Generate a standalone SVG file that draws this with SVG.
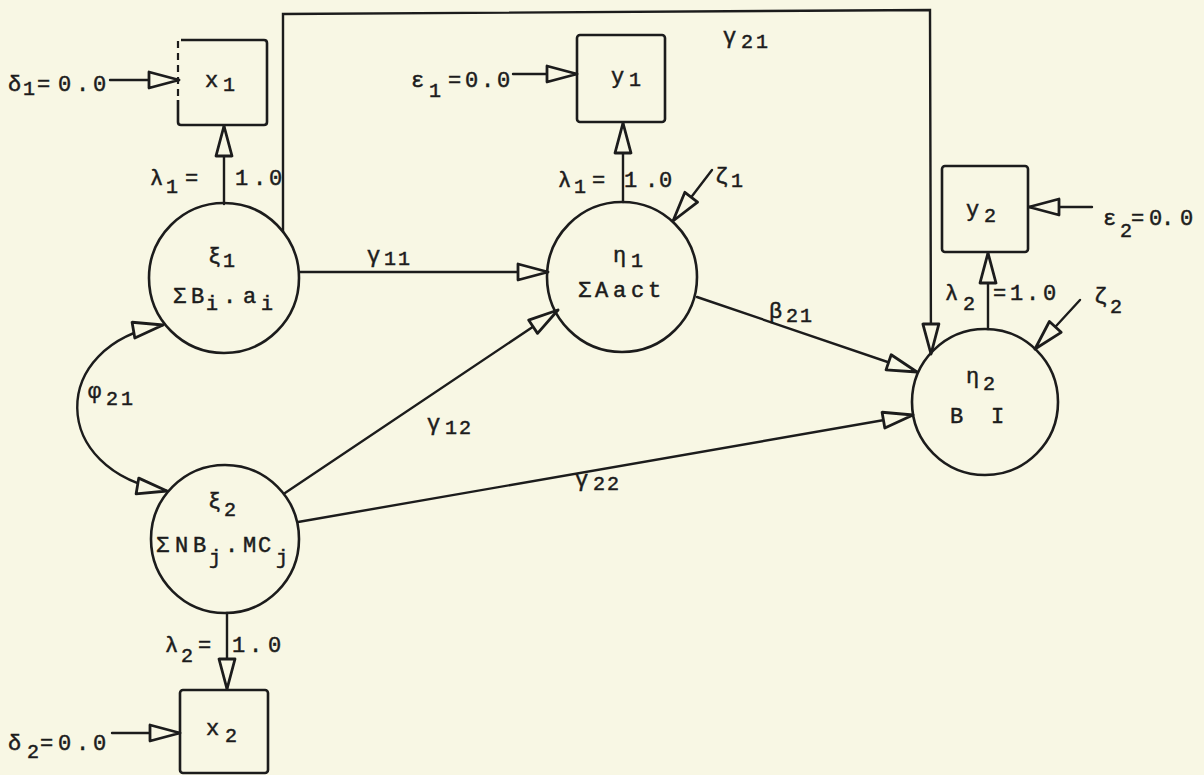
<svg xmlns="http://www.w3.org/2000/svg" width="1204" height="775" viewBox="0 0 1204 775">
<defs>
<style>
.bg{fill:#f8f7e4}
.ln{fill:none;stroke:#1c1c1c;stroke-width:2.4;stroke-linecap:round}
.nd{fill:none;stroke:#1c1c1c;stroke-width:2.6}
.dsh{fill:none;stroke:#1c1c1c;stroke-width:2.2;stroke-dasharray:7 5}
text{font-family:"Liberation Mono","DejaVu Sans Mono",monospace;font-size:22px;fill:#1c1c1c;stroke:#1c1c1c;stroke-width:0.5}
.s{font-size:20px}
</style>
<marker id="ah" markerUnits="userSpaceOnUse" markerWidth="36" markerHeight="22" refX="32" refY="10" orient="auto-start-reverse" viewBox="0 0 36 22">
<path d="M2,2 L32,10 L2,18 Z" fill="#f8f7e4" stroke="#1c1c1c" stroke-width="2.8" stroke-linejoin="round"/>
</marker>
</defs>
<rect class="bg" x="0" y="0" width="1204" height="775"/>

<g id="connectors">
<line class="ln" x1="110" y1="80" x2="179" y2="80" marker-end="url(#ah)"/>
<line class="ln" x1="224" y1="204" x2="224" y2="126" marker-end="url(#ah)"/>
<line class="ln" x1="300" y1="272" x2="548" y2="272" marker-end="url(#ah)"/>
<path class="ln" d="M283,232 L283,14 L930,10 L931,354" marker-end="url(#ah)"/>
<path class="ln" d="M163,325 C48,345 48,471 167,491" marker-start="url(#ah)" marker-end="url(#ah)"/>
<line class="ln" x1="285" y1="493" x2="558" y2="310" marker-end="url(#ah)"/>
<line class="ln" x1="298" y1="522" x2="913" y2="415" marker-end="url(#ah)"/>
<line class="ln" x1="227" y1="613" x2="227" y2="689" marker-end="url(#ah)"/>
<line class="ln" x1="112" y1="733" x2="180" y2="733" marker-end="url(#ah)"/>
<line class="ln" x1="513" y1="74" x2="577" y2="74" marker-end="url(#ah)"/>
<line class="ln" x1="623" y1="202" x2="623" y2="123" marker-end="url(#ah)"/>
<line class="ln" x1="712" y1="170" x2="673" y2="221" marker-end="url(#ah)"/>
<line class="ln" x1="697" y1="297" x2="917" y2="372" marker-end="url(#ah)"/>
<line class="ln" x1="988" y1="329" x2="988" y2="253" marker-end="url(#ah)"/>
<line class="ln" x1="1092" y1="207" x2="1029" y2="207" marker-end="url(#ah)"/>
<line class="ln" x1="1080" y1="300" x2="1035" y2="349" marker-end="url(#ah)"/>
</g>

<g id="label-delta1"><text><tspan x="8" y="91">δ</tspan><tspan class="s" x="23" y="95">1</tspan><tspan x="37 58 76 93" y="91">=0.0</tspan></text></g>
<g id="x1">
<path class="nd" d="M178,100 L178,122 Q178,125 181,125 L264,125 Q267,125 267,122 L267,43 Q267,40 264,40 L181,40"/>
<line class="dsh" x1="178" y1="41" x2="178" y2="100"/>
<text><tspan x="205" y="87">x</tspan><tspan class="s" x="223" y="91">1</tspan></text>
</g>
<g id="label-lambda1-x"><text><tspan x="150" y="185">λ</tspan><tspan class="s" x="166" y="193">1</tspan><tspan x="185" y="185">=</tspan><tspan x="235 253 269" y="185">1.0</tspan></text></g>

<g id="xi1">
<circle class="nd" cx="224" cy="278" r="75"/>
<text><tspan x="208" y="263">ξ</tspan><tspan class="s" x="223" y="267">1</tspan></text>
<text><tspan x="173 191" y="303">ΣB</tspan><tspan class="s" x="206" y="310">i</tspan><tspan x="223 243" y="303">.a</tspan><tspan class="s" x="261" y="310">i</tspan></text>
</g>

<g id="label-gamma11"><text><tspan x="367" y="262">γ</tspan><tspan class="s" x="384 398" y="265">11</tspan></text></g>
<g id="label-phi21"><text><tspan x="88" y="398">φ</tspan><tspan class="s" x="106 121" y="405">21</tspan></text></g>

<g id="xi2">
<circle class="nd" cx="225" cy="539" r="74"/>
<text><tspan x="208" y="508">ξ</tspan><tspan class="s" x="224" y="516">2</tspan></text>
<text><tspan x="156 175 193" y="552">ΣNB</tspan><tspan class="s" x="209" y="564">j</tspan><tspan x="225 243 258" y="552">.MC</tspan><tspan class="s" x="276" y="564">j</tspan></text>
</g>
<g id="label-lambda2-x"><text><tspan x="165" y="652">λ</tspan><tspan class="s" x="181" y="662">2</tspan><tspan x="198" y="652">=</tspan><tspan x="232 249 268" y="652">1.0</tspan></text></g>

<g id="x2">
<rect class="nd" x="180" y="690" width="88" height="83" rx="3"/>
<text><tspan x="206" y="735">x</tspan><tspan class="s" x="225" y="742">2</tspan></text>
</g>
<g id="label-delta2"><text><tspan x="8" y="750">δ</tspan><tspan class="s" x="27" y="758">2</tspan><tspan x="40 58 76 93" y="750">=0.0</tspan></text></g>

<g id="label-epsilon1"><text><tspan x="411" y="87">ε</tspan><tspan class="s" x="429" y="97">1</tspan><tspan x="448 465 481 497" y="87">=0.0</tspan></text></g>
<g id="y1">
<rect class="nd" x="577" y="35" width="88" height="87" rx="3"/>
<text><tspan x="611" y="83">y</tspan><tspan class="s" x="629" y="86">1</tspan></text>
</g>
<g id="label-lambda1-y"><text><tspan x="558" y="187">λ</tspan><tspan class="s" x="574" y="193">1</tspan><tspan x="592" y="187">=</tspan><tspan x="624 645 659" y="187">1.0</tspan></text></g>
<g id="label-zeta1"><text><tspan x="715" y="183">ζ</tspan><tspan class="s" x="731" y="187">1</tspan></text></g>

<g id="eta1">
<circle class="nd" cx="622" cy="277" r="75"/>
<text><tspan x="613" y="262">η</tspan><tspan class="s" x="631" y="267">1</tspan></text>
<text x="578 595 613 631 648" y="297">ΣAact</text>
</g>

<g id="label-gamma21"><text><tspan x="723" y="43">γ</tspan><tspan class="s" x="741 756" y="48">21</tspan></text></g>
<g id="label-beta21"><text><tspan x="769" y="318">β</tspan><tspan class="s" x="786 800" y="322">21</tspan></text></g>
<g id="label-gamma12"><text><tspan x="427" y="430">γ</tspan><tspan class="s" x="445 459" y="434">12</tspan></text></g>
<g id="label-gamma22"><text><tspan x="575" y="486">γ</tspan><tspan class="s" x="593 607" y="490">22</tspan></text></g>

<g id="y2">
<rect class="nd" x="942" y="166" width="86" height="86" rx="3"/>
<text><tspan x="966" y="216">y</tspan><tspan class="s" x="984" y="222">2</tspan></text>
</g>
<g id="label-epsilon2"><text><tspan x="1103" y="225">ε</tspan><tspan class="s" x="1120" y="237">2</tspan><tspan x="1131 1149 1161 1180" y="225">=0.0</tspan></text></g>
<g id="label-lambda2-y"><text><tspan x="945" y="300">λ</tspan><tspan class="s" x="963" y="310">2</tspan><tspan x="993 1010 1026 1043" y="300">=1.0</tspan></text></g>
<g id="label-zeta2"><text><tspan x="1094" y="303">ζ</tspan><tspan class="s" x="1110" y="313">2</tspan></text></g>

<g id="eta2">
<circle class="nd" cx="985" cy="402" r="73"/>
<text><tspan x="966" y="383">η</tspan><tspan class="s" x="983" y="390">2</tspan></text>
<text x="950 991" y="423">BI</text>
</g>
</svg>
